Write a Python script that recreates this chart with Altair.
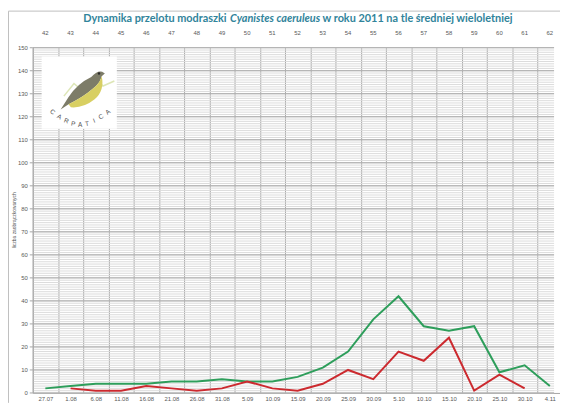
import altair as alt
import pandas as pd

# ---- data ----
dates = ["27.07", "1.08", "6.08", "11.08", "16.08", "21.08", "26.08", "31.08",
         "5.09", "10.09", "15.09", "20.09", "25.09", "30.09", "5.10", "10.10",
         "15.10", "20.10", "25.10", "30.10", "4.11"]
pentads = ["42", "43", "44", "45", "46", "47", "48", "49", "50", "51", "52",
           "53", "54", "55", "56", "57", "58", "59", "60", "61", "62"]
avg_values = [2, 3, 4, 4, 4, 5, 5, 6, 5, 5, 7, 11, 18, 32, 42, 29, 27, 29, 9, 12, 3]
y2011_values = [None, 2, 1, 1, 3, 2, 1, 2, 5, 2, 1, 4, 10, 6, 18, 14, 24, 1, 8, 2, None]
series_names = ["średnia wieloletnia", "2011"]
series_colors = ["#2e9e5b", "#cc2a2f"]
major_ticks = [0, 10, 20, 30, 40, 50, 60, 70, 80, 90, 100, 110, 120, 130, 140, 150]
minor_ticks = list(range(0, 151))

rows = []
for d, a, r in zip(dates, avg_values, y2011_values):
    rows.append({"date": d, "value": a, "series": series_names[0]})
    if r is not None:
        rows.append({"date": d, "value": r, "series": series_names[1]})
df = pd.DataFrame(rows)

W, H = 527, 349
GRID = "#a6a6a6"
LBL = "#595959"
FONT = "Liberation Sans"

xscale = alt.Scale(domain=dates, range=[0, 535.5], paddingInner=0, paddingOuter=0)
yscale = alt.Scale(domain=[0, 150], nice=False, zero=True)

x_bottom = alt.Axis(orient="bottom", title=None, labelAngle=0, labelFontSize=6,
                    labelColor=LBL, labelFont=FONT, labelPadding=3, ticks=False,
                    tickBand="extent", grid=True, gridColor=GRID, gridWidth=1,
                    domainColor=GRID, labelOverlap=False, labelBound=False)

pent_expr = "[" + ",".join("'%s'" % p for p in pentads) + "][indexof([" + \
    ",".join("'%s'" % d for d in dates) + "], datum.value)]"
x_top = alt.Axis(orient="top", title=None, labelAngle=0, labelFontSize=6,
                 labelColor=LBL, labelFont=FONT, labelPadding=12, ticks=False,
                 grid=False, domain=False, labelExpr=pent_expr,
                 labelOverlap=False, labelBound=False)

# horizontal grid (minor every 1, major every 10)
minor_grid = alt.Chart(pd.DataFrame({"v": minor_ticks})).mark_rule(
    color="#dcdcdc", strokeWidth=1).encode(
    y=alt.Y("v:Q", scale=yscale, axis=None))
major_df = pd.DataFrame({"v": major_ticks})
major_grid = alt.Chart(major_df).mark_rule(
    color=GRID, strokeWidth=1).encode(
    y=alt.Y("v:Q", scale=yscale, axis=None))

# y axis drawn from the major tick list: ticks, labels, domain line
y_tick_marks = alt.Chart(major_df).mark_rule(color=GRID, strokeWidth=1).encode(
    x=alt.value(-3), x2=alt.value(0),
    y=alt.Y("v:Q", scale=yscale, axis=None))
y_labels = alt.Chart(major_df).mark_text(
    align="right", baseline="middle", fontSize=6, color=LBL, font=FONT).encode(
    x=alt.value(-5),
    y=alt.Y("v:Q", scale=yscale, axis=None),
    text=alt.Text("v:Q"))

one = pd.DataFrame({"k": [0]})

def deco():
    return alt.Chart(one)

y_domain = deco().mark_rule(color=GRID, strokeWidth=1).encode(
    x=alt.value(0.5), y=alt.value(0), y2=alt.value(H))
y_title = deco().mark_text(
    angle=270, fontSize=5, color=LBL, font=FONT, baseline="middle", align="center").encode(
    x=alt.value(-19), y=alt.value(H / 2), text=alt.value("liczba zaobrączkowanych"))

base = alt.Chart(df)

lines = base.mark_line(strokeWidth=2).encode(
    x=alt.X("date:N", sort=dates, scale=xscale, axis=x_bottom),
    y=alt.Y("value:Q", scale=yscale, axis=None),
    color=alt.Color("series:N", scale=alt.Scale(domain=series_names, range=series_colors), legend=None),
)

top_axis_layer = base.mark_point(opacity=0).encode(
    x=alt.X("date:N", sort=dates, scale=xscale, axis=x_top),
    y=alt.Y("value:Q", scale=yscale, axis=None),
)

# chart frame (Excel chart area border)
frame_top = deco().mark_rule(color="#bfbfbf", strokeWidth=1).encode(
    x=alt.value(-24.5), x2=alt.value(W + 6), y=alt.value(-37))
frame_left = deco().mark_rule(color="#bfbfbf", strokeWidth=1).encode(
    x=alt.value(-24.5), y=alt.value(-37), y2=alt.value(H + 10))

# title in three pieces (italic species name)
tstyle = dict(fontSize=11, fontWeight="bold", color="#31849b", font="Lato", baseline="middle")
t1 = deco().mark_text(align="right", **tstyle).encode(
    x=alt.value(196), y=alt.value(-29), text=alt.value("Dynamika przelotu modraszki"))
t2 = deco().mark_text(align="center", fontStyle="italic", **tstyle).encode(
    x=alt.value(245), y=alt.value(-29), text=alt.value("Cyanistes caeruleus"))
t3 = deco().mark_text(align="left", **tstyle).encode(
    x=alt.value(293), y=alt.value(-29), text=alt.value("w roku 2011 na tle średniej wieloletniej"))

# logo
logo_bg = deco().mark_rect(color="white").encode(
    x=alt.value(9), x2=alt.value(85), y=alt.value(9), y2=alt.value(82))
mountains = deco().mark_point(
    shape="M -1 0.35 L -0.6 -0.15 L -0.25 0.15 L 0.2 -0.45 L 0.55 -0.05 L 1 -0.25",
    filled=False, stroke="#cfdc98", strokeWidth=1.5, size=2600).encode(
    x=alt.value(57), y=alt.value(40))
bird_back = deco().mark_point(
    shape="M -0.95 0.85 L -0.6 0.3 Q -0.2 -0.3 0.4 -0.58 Q 0.65 -0.88 0.88 -0.82 L 1 -0.74 L 0.86 -0.62 Q 0.78 -0.3 0.45 -0.05 Q 0.05 0.3 -0.6 0.62 Z",
    filled=True, color="#7d7c68", opacity=1, size=2100).encode(
    x=alt.value(50), y=alt.value(43))
bird_belly = deco().mark_point(
    shape="M -0.6 0.62 Q 0.05 0.3 0.45 -0.05 Q 0.78 -0.3 0.86 -0.62 Q 1.0 0.0 0.55 0.4 Q 0.05 0.8 -0.5 0.75 Z",
    filled=True, color="#d8cf62", opacity=1, size=2100).encode(
    x=alt.value(50), y=alt.value(43))
bird_eye = deco().mark_point(filled=True, color="#2b2b2b", opacity=1, size=6).encode(
    x=alt.value(67), y=alt.value(26))

letters = ["C", "A", "R", "P", "A", "T", "I", "C", "A"]
letter_x = [20, 27, 34, 41, 48, 55, 62, 69, 76]
letter_y = [65, 70, 74, 77, 78, 77, 74, 70, 65]
letter_a = [40, 30, 20, 10, 0, 350, 340, 330, 320]
letter_layers = [
    deco().mark_text(fontSize=6.5, color="#555555", font=FONT, angle=a).encode(
        x=alt.value(lx), y=alt.value(ly), text=alt.value(ch))
    for ch, lx, ly, a in zip(letters, letter_x, letter_y, letter_a)
]

chart = alt.layer(
    minor_grid, major_grid, lines, top_axis_layer, y_tick_marks, y_labels, y_domain, y_title,
    frame_top, frame_left, t1, t2, t3,
    logo_bg, mountains, bird_back, bird_belly, bird_eye, *letter_layers
).properties(
    width=W, height=H,
    autosize=alt.AutoSizeParams(type="none"),
    padding={"left": 25, "right": 6, "top": 38, "bottom": 9},
    background="white",
).configure_view(stroke=None)

chart.save("out.html", embed_options={"renderer": "svg", "actions": False})
